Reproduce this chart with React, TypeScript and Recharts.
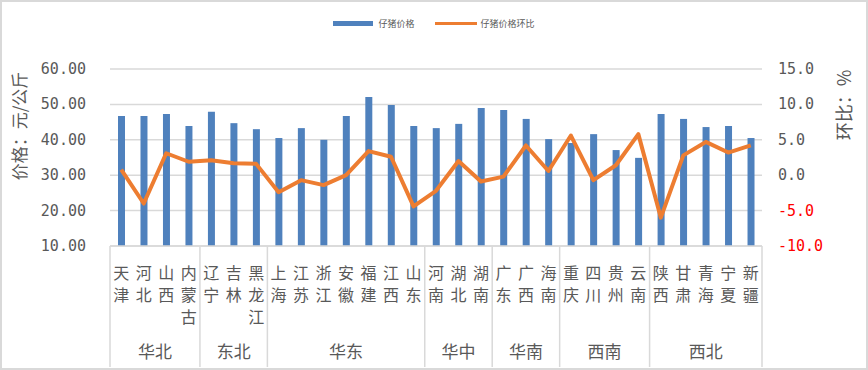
import { Bar, CartesianGrid, ComposedChart, Legend, Line, XAxis, YAxis } from "recharts";

const provinces = [
  "天津", "河北", "山西", "内蒙古",
  "辽宁", "吉林", "黑龙江",
  "上海", "江苏", "浙江", "安徽", "福建", "江西", "山东",
  "河南", "湖北", "湖南",
  "广东", "广西", "海南",
  "重庆", "四川", "贵州", "云南",
  "陕西", "甘肃", "青海", "宁夏", "新疆",
];
const regions = ["华北", "东北", "华东", "华中", "华南", "西南", "西北"];
const regionSizes = [4, 3, 7, 3, 3, 4, 5];

const prices = [
  46.7, 46.7, 47.3, 43.9,
  47.9, 44.7, 43.0,
  40.5, 43.3, 40.0, 46.7, 52.1, 49.8, 43.9,
  43.3, 44.5, 49.0,
  48.4, 45.9, 40.2,
  39.1, 41.6, 37.1, 34.9,
  47.3, 45.9, 43.6, 43.9, 40.5,
];
const changes = [
  0.8, -4.0, 3.1, 1.9,
  2.1, 1.7, 1.6,
  -2.4, -0.7, -1.4, 0.0, 3.4, 2.6, -4.4,
  -2.2, 2.0, -0.9,
  -0.2, 4.2, 0.6,
  5.6, -0.7, 1.4, 5.8,
  -6.0, 2.8, 4.7, 3.2, 4.2,
];

const leftTicks = [10, 20, 30, 40, 50, 60];
const rightTicks = [-10, -5, 0, 5, 10, 15];

const data = provinces.map((name, i) => ({ name, price: prices[i], change: changes[i] }));

// index of first province in each region
const regionStart: number[] = [];
regionSizes.reduce((acc, n) => {
  regionStart.push(acc);
  return acc + n;
}, 0);

const GREY = "#595959";
const LINE_GREY = "#d9d9d9";
const CJK = "'Noto Sans CJK SC', sans-serif";
const NUM = "'DejaVu Sans Mono', monospace";

function ProvinceTick(props: any) {
  const { x, y, payload, index } = props;
  const half = payload?.offset || 11.24;
  const chars: string[] = Array.from(String(payload.value));
  const g = regionStart.indexOf(index);
  const isLast = index === provinces.length - 1;
  return (
    <g>
      {chars.map((c, k) => (
        <text
          key={k}
          x={x}
          y={y + 26 + k * 22}
          textAnchor="middle"
          dominantBaseline="central"
          fontSize={16}
          fontFamily={CJK}
          fill={GREY}
        >
          {c}
        </text>
      ))}
      {g >= 0 && (
        <>
          <line x1={x - half} x2={x - half} y1={y} y2={y + 121} stroke={LINE_GREY} strokeWidth={1.5} />
          <text
            x={x - half + regionSizes[g] * half}
            y={y + 104}
            textAnchor="middle"
            dominantBaseline="central"
            fontSize={17}
            fontFamily={CJK}
            fill={GREY}
          >
            {regions[g]}
          </text>
        </>
      )}
      {isLast && (
        <line x1={x + half} x2={x + half} y1={y} y2={y + 121} stroke={LINE_GREY} strokeWidth={1.5} />
      )}
    </g>
  );
}

function LeftTick({ y, payload }: any) {
  return (
    <text x={86} y={y} textAnchor="end" dominantBaseline="central" fontSize={15} fontFamily={NUM} fill={GREY}>
      {Number(payload.value).toFixed(2)}
    </text>
  );
}

function RightTick({ y, payload }: any) {
  const v = Number(payload.value);
  return (
    <text
      x={778}
      y={y}
      textAnchor="start"
      dominantBaseline="central"
      fontSize={15}
      fontFamily={NUM}
      fill={v < 0 ? "#ff0000" : GREY}
    >
      {v.toFixed(1)}
    </text>
  );
}

function LegendContent() {
  const item = { display: "flex", alignItems: "center", color: GREY, fontSize: 9, fontFamily: CJK };
  return (
    <div style={{ display: "flex", justifyContent: "center", height: 18, alignItems: "center" }}>
      <div style={item}>
        <span style={{ display: "inline-block", width: 40, height: 5, background: "#4F81BD", marginRight: 5 }} />
        仔猪价格
      </div>
      <div style={{ ...item, marginLeft: 20 }}>
        <span style={{ display: "inline-block", width: 42, height: 3, background: "#ED7D31", marginRight: 4 }} />
        仔猪价格环比
      </div>
    </div>
  );
}

export default function App() {
  return (
    <div style={{ position: "absolute", left: 0, top: 0, width: 868, height: 370, background: "#fff" }}>
      <ComposedChart width={868} height={370} data={data} margin={{ top: 69, right: 0, bottom: 0, left: 0 }}>
        <CartesianGrid yAxisId="left" vertical={false} stroke={LINE_GREY} strokeWidth={1.5} />
        <XAxis
          dataKey="name"
          interval={0}
          height={124}
          tickSize={0}
          tickMargin={0}
          axisLine={{ stroke: LINE_GREY, strokeWidth: 1.5 }}
          tickLine={false}
          tick={<ProvinceTick />}
        />
        <YAxis
          yAxisId="left"
          width={110}
          domain={[10, 60]}
          ticks={leftTicks}
          axisLine={false}
          tickLine={false}
          tick={<LeftTick />}
          label={{
            content: () => (
              <text
                x={18}
                y={126}
                transform="rotate(-90 18 126)"
                textAnchor="middle"
                dominantBaseline="central"
                fontSize={17}
                fontFamily={CJK}
                fill={GREY}
              >
                价格：元/公斤
              </text>
            ),
          }}
        />
        <YAxis
          yAxisId="right"
          orientation="right"
          width={106}
          domain={[-10, 15]}
          ticks={rightTicks}
          axisLine={false}
          tickLine={false}
          tick={<RightTick />}
          label={{
            content: () => (
              <text
                x={843}
                y={105}
                transform="rotate(-90 843 105)"
                textAnchor="middle"
                dominantBaseline="central"
                fontSize={18}
                fontFamily={CJK}
                fill={GREY}
              >
                环比：%
              </text>
            ),
          }}
        />
        <Legend
          verticalAlign="middle"
          align="center"
          wrapperStyle={{ top: 14, left: 0, width: 868 }}
          content={<LegendContent />}
        />
        <Bar yAxisId="left" dataKey="price" name="仔猪价格" fill="#4F81BD" barSize={7} isAnimationActive={false} />
        <Line
          yAxisId="right"
          type="linear"
          dataKey="change"
          name="仔猪价格环比"
          stroke="#ED7D31"
          strokeWidth={4}
          strokeLinejoin="round"
          dot={false}
          activeDot={false}
          isAnimationActive={false}
        />
      </ComposedChart>
      <div
        style={{
          position: "absolute",
          inset: 0,
          border: `2px solid ${LINE_GREY}`,
          pointerEvents: "none",
        }}
      />
    </div>
  );
}
